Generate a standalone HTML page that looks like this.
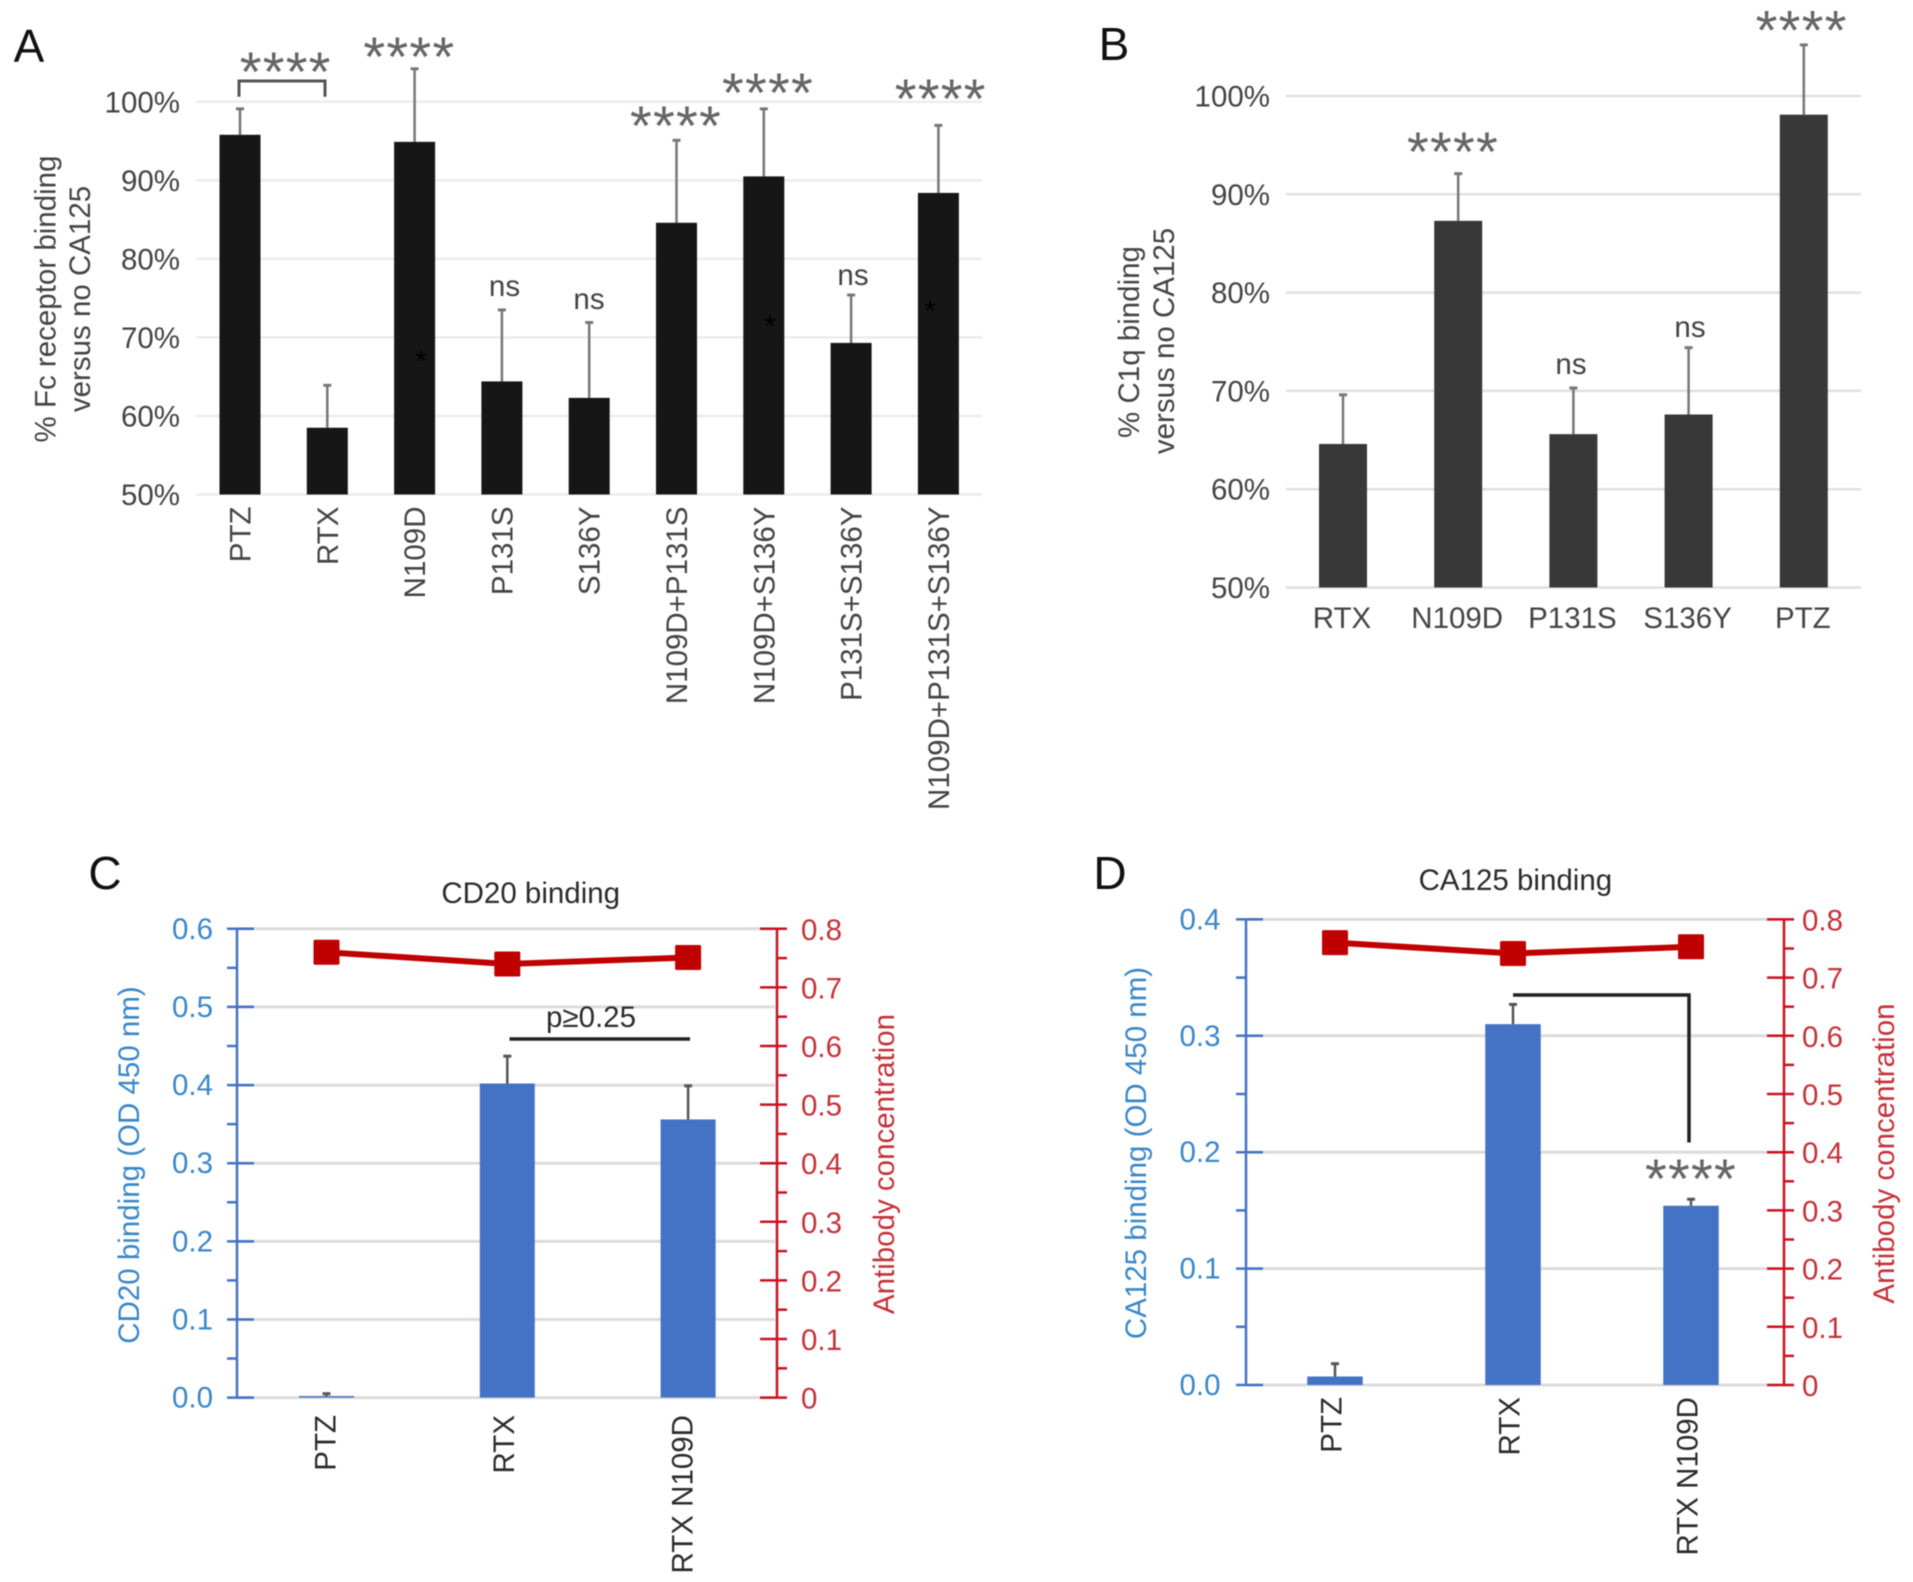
<!DOCTYPE html>
<html lang="en">
<head>
<meta charset="utf-8">
<title>Binding charts</title>
<style>
html,body{margin:0;padding:0;background:#fff;}
svg{display:block;filter:blur(.6px);}
text{font-family:"Liberation Sans",sans-serif;font-size:29.5px;}
.dark{fill:#444;}
.blk{fill:#2b2b2b;}
.blue{fill:#3a87c8;}
.red{fill:#c4323a;}
.letter{font-size:46px;fill:#111;}
.stars{font-size:56px;fill:#666;text-anchor:middle;letter-spacing:1.2px;}
</style>
</head>
<body>
<svg id="fig" xmlns="http://www.w3.org/2000/svg" width="1913" height="1582" viewBox="0 0 1913 1582">
  <rect width="1913" height="1582" fill="#fff"/>
  <g id="panelA"></g>
  <g id="panelB"></g>
  <g id="panelC"></g>
  <g id="panelD"></g>

  <text class="letter" x="29" y="62" text-anchor="middle">A</text>
  <text class="letter" x="1114" y="60" text-anchor="middle">B</text>
  <text class="letter" x="105" y="889" text-anchor="middle">C</text>
  <text class="letter" x="1110" y="889" text-anchor="middle">D</text>

  <!-- Panel A annotations -->
  <g transform="translate(45.5,299) rotate(-90)"><text class="dark" text-anchor="middle" y="10">% Fc receptor binding</text></g>
  <g transform="translate(80,299) rotate(-90)"><text class="dark" text-anchor="middle" y="10">versus no CA125</text></g>
  <path d="M239 96.7V81H325V96.7" fill="none" stroke="#555" stroke-width="3"/>
  <text class="stars" x="285.7" y="91">****</text>
  <text class="stars" x="409.4" y="76">****</text>
  <text class="stars" x="676" y="145">****</text>
  <text class="stars" x="768" y="112">****</text>
  <text class="stars" x="940.7" y="118">****</text>
  <text class="dark" x="504.5" y="296" text-anchor="middle">ns</text>
  <text class="dark" x="589" y="309" text-anchor="middle">ns</text>
  <text class="dark" x="853" y="285" text-anchor="middle">ns</text>
  <text x="421" y="371" text-anchor="middle" style="font-size:30px;fill:#000">*</text>
  <text x="770" y="336" text-anchor="middle" style="font-size:30px;fill:#000">*</text>
  <text x="930" y="321" text-anchor="middle" style="font-size:30px;fill:#000">*</text>

  <!-- Panel B annotations -->
  <g transform="translate(1129,342) rotate(-90)"><text class="dark" text-anchor="middle" y="10">% C1q binding</text></g>
  <g transform="translate(1164,341) rotate(-90)"><text class="dark" text-anchor="middle" y="10">versus no CA125</text></g>
  <text class="stars" x="1453" y="171">****</text>
  <text class="stars" x="1801.6" y="49.5">****</text>
  <text class="dark" x="1571" y="374" text-anchor="middle">ns</text>
  <text class="dark" x="1690" y="337" text-anchor="middle">ns</text>

  <!-- Panel C annotations -->
  <text class="blk" x="530.7" y="903" text-anchor="middle">CD20 binding</text>
  <g transform="translate(129,1165) rotate(-90)"><text class="blue" text-anchor="middle" y="10">CD20 binding (OD 450 nm)</text></g>
  <g transform="translate(884,1164) rotate(-90)"><text class="red" text-anchor="middle" y="10">Antibody concentration</text></g>
  <text class="blk" x="591" y="1027" text-anchor="middle">p≥0.25</text>
  <line x1="509.5" x2="690" y1="1039" y2="1039" stroke="#222" stroke-width="3.5"/>

  <!-- Panel D annotations -->
  <text class="blk" x="1515.4" y="890" text-anchor="middle">CA125 binding</text>
  <g transform="translate(1136,1153) rotate(-90)"><text class="blue" text-anchor="middle" y="10">CA125 binding (OD 450 nm)</text></g>
  <g transform="translate(1884,1153.5) rotate(-90)"><text class="red" text-anchor="middle" y="10">Antibody concentration</text></g>
  <path d="M1513 995H1689V1142.5" fill="none" stroke="#222" stroke-width="3.5"/>
  <text class="stars" x="1691" y="1198">****</text>
</svg>

<script>
// Panel A data
const aCategories = ['PTZ','RTX','N109D','P131S','S136Y','N109D+P131S','N109D+S136Y','P131S+S136Y','N109D+P131S+S136Y'];
const aValues = [95.8,58.5,94.9,64.4,62.3,84.6,90.5,69.3,88.4];
const aErrorTops = [99.1,63.9,104.2,73.5,71.9,95.1,99.1,75.4,97.0];
const aTicks = [50,60,70,80,90,100];
const aTickLabels = ['50%','60%','70%','80%','90%','100%'];

// Panel B data
const bCategories = ['RTX','N109D','P131S','S136Y','PTZ'];
const bValues = [64.6,87.3,65.6,67.6,98.1];
const bErrorTops = [69.6,92.1,70.3,74.4,105.2];
const bTicks = [50,60,70,80,90,100];
const bTickLabels = ['50%','60%','70%','80%','90%','100%'];

// Panel C data
const cCategories = ['PTZ','RTX','RTX N109D'];
const cValues = [0.002,0.402,0.356];
const cErrorTops = [0.005,0.437,0.399];
const cConcentration = [0.76,0.74,0.751];
const cLeftTicks = [0,0.1,0.2,0.3,0.4,0.5,0.6];
const cLeftTickLabels = ['0.0','0.1','0.2','0.3','0.4','0.5','0.6'];
const cRightTicks = [0,0.1,0.2,0.3,0.4,0.5,0.6,0.7,0.8];
const cRightTickLabels = ['0','0.1','0.2','0.3','0.4','0.5','0.6','0.7','0.8'];

// Panel D data
const dCategories = ['PTZ','RTX','RTX N109D'];
const dValues = [0.0073,0.31,0.154];
const dErrorTops = [0.0183,0.327,0.1596];
const dConcentration = [0.76,0.7415,0.753];
const dLeftTicks = [0,0.1,0.2,0.3,0.4];
const dLeftTickLabels = ['0.0','0.1','0.2','0.3','0.4'];
const dRightTicks = [0,0.1,0.2,0.3,0.4,0.5,0.6,0.7,0.8];
const dRightTickLabels = ['0','0.1','0.2','0.3','0.4','0.5','0.6','0.7','0.8'];

const NS = 'http://www.w3.org/2000/svg';
function mk(tag, attrs, parent, txt) {
  const e = document.createElementNS(NS, tag);
  for (const k in attrs) e.setAttribute(k, attrs[k]);
  if (txt !== undefined) e.textContent = txt;
  parent.appendChild(e);
  return e;
}
function linear(d0, d1, r0, r1) {
  return v => r0 + (v - d0) / (d1 - d0) * (r1 - r0);
}

function errorBar(g, x, y0, y1, color) {
  const s = mk('line', {x1:x, x2:x, y1:y0, y2:y1, stroke:color, 'stroke-width':2.5}, g);
  
  
  const c = mk('line', {x1:x-4, x2:x+4, y1:y1, y2:y1, stroke:color, 'stroke-width':3}, g);
  
  
}

function rotatedLabel(g, x, y, label, cls) {
  const t = mk('text', {x:0, y:0, 'text-anchor':'end', class:cls,
    transform:'translate(' + (x + 10.5) + ',' + y + ') rotate(-90)'}, g, label);
  
  
}

function drawGray(g, o) {
  const y = linear(o.dMin, o.dMax, o.yBottom, o.yTop);
  const x = i => o.x0 + i * o.step;
  o.ticks.forEach((v, i) => {
    const l = mk('line', {x1:o.gridL, x2:o.gridR, y1:y(v), y2:y(v), stroke:o.grid, 'stroke-width':2.5}, g);
    
    
    const t = mk('text', {x:o.labelR, y:y(v) + 10.5, 'text-anchor':'end', class:'dark'}, g, o.tickLabels[i]);
    
    
  });
  o.values.forEach((v, i) => {
    errorBar(g, x(i), y(v), y(o.errs[i]), '#777');
    const b = mk('rect', {x:x(i) - o.barW / 2, y:y(v), width:o.barW, height:o.yBottom - y(v), fill:o.barColor}, g);
    
    
    if (o.rotated) {
      rotatedLabel(g, x(i), o.labelTop, o.cats[i], 'dark');
    } else {
      const t = mk('text', {x:x(i) - 1, y:o.labelBase, 'text-anchor':'middle', class:'dark'}, g, o.cats[i]);
      
      
    }
  });
}

function drawDual(g, o) {
  const yL = linear(0, o.leftMax, o.yBottom, o.yTop);
  const yR = linear(0, 0.8, o.yBottom, o.yTop);
  const x = i => o.x0 + i * o.step;
  const blue = '#4472c4', red = '#cc1122';

  o.leftTicks.forEach((v) => {
    const l = mk('line', {x1:o.axisL, x2:o.axisR, y1:yL(v), y2:yL(v), stroke:'#dcdcdc', 'stroke-width':3}, g);
    
    
  });

  o.values.forEach((v, i) => {
    const b = mk('rect', {x:x(i) - o.barW / 2, y:yL(v), width:o.barW, height:o.yBottom - yL(v), fill:blue}, g);
    
    
    errorBar(g, x(i), yL(v), yL(o.errs[i]), '#555');
    rotatedLabel(g, o.catX(i), o.labelTop, o.cats[i], 'blk');
  });

  // left axis
  const la = mk('line', {x1:o.axisL, x2:o.axisL, y1:o.yTop, y2:o.yBottom, stroke:blue, 'stroke-width':2.5}, g);
  
  
  o.leftTicks.forEach((v, i) => {
    const k = mk('line', {x1:o.axisL - 10, x2:o.axisL + 17, y1:yL(v), y2:yL(v), stroke:blue, 'stroke-width':2.5}, g);
    
    
    if (i < o.leftTicks.length - 1) {
      const mid = (v + o.leftTicks[i + 1]) / 2;
      const n = mk('line', {x1:o.axisL - 10, x2:o.axisL, y1:yL(mid), y2:yL(mid), stroke:blue, 'stroke-width':2.5}, g);
      
      
    }
    const t = mk('text', {x:o.leftLabelR, y:yL(v) + 10, 'text-anchor':'end', class:'blue'}, g, o.leftTickLabels[i]);
    
    
  });

  // right axis
  const ra = mk('line', {x1:o.rightAxis, x2:o.rightAxis, y1:o.yTop, y2:o.yBottom, stroke:red, 'stroke-width':2.5}, g);
  
  
  o.rightTicks.forEach((v, i) => {
    const k = mk('line', {x1:o.rightAxis - 17, x2:o.rightAxis + 10, y1:yR(v), y2:yR(v), stroke:red, 'stroke-width':2.5}, g);
    
    
    if (i < o.rightTicks.length - 1) {
      const mid = (v + o.rightTicks[i + 1]) / 2;
      const n = mk('line', {x1:o.rightAxis, x2:o.rightAxis + 10, y1:yR(mid), y2:yR(mid), stroke:red, 'stroke-width':2.5}, g);
      
      
    }
    const t = mk('text', {x:o.rightLabelL, y:yR(v) + 11, class:'red'}, g, o.rightTickLabels[i]);
    
    
  });

  // concentration line
  const pts = o.line.map((v, i) => x(i) + ',' + yR(v)).join(' ');
  const p = mk('polyline', {points:pts, fill:'none', stroke:'#c00000', 'stroke-width':6}, g);
  
  
  o.line.forEach((v, i) => {
    const s = mk('rect', {x:x(i) - 13, y:yR(v) - 12.5, width:26, height:25, rx:1.5, fill:'#c00000'}, g);
    
    
  });
}

drawGray(document.getElementById('panelA'), {
  cats:aCategories, values:aValues, errs:aErrorTops, ticks:aTicks, tickLabels:aTickLabels,
  dMin:50, dMax:100, yBottom:494.5, yTop:101.8, x0:240, step:87.3, barW:41,
  gridL:196, gridR:982, grid:'#ececec', labelR:180, barColor:'#161616', rotated:true, labelTop:506.5
});
drawGray(document.getElementById('panelB'), {
  cats:bCategories, values:bValues, errs:bErrorTops, ticks:bTicks, tickLabels:bTickLabels,
  dMin:50, dMax:100, yBottom:587.5, yTop:96, x0:1343, step:115.2, barW:48,
  gridL:1286, gridR:1861, grid:'#e0e0e0', labelR:1270, barColor:'#383838', rotated:false, labelBase:628
});
drawDual(document.getElementById('panelC'), {
  cats:cCategories, values:cValues, errs:cErrorTops, line:cConcentration,
  leftTicks:cLeftTicks, leftTickLabels:cLeftTickLabels, rightTicks:cRightTicks, rightTickLabels:cRightTickLabels,
  leftMax:0.6, yBottom:1397.6, yTop:928.8, x0:326.5, step:180.8, barW:55,
  axisL:237, axisR:775, rightAxis:777, leftLabelR:213, rightLabelL:801, labelTop:1415,
  catX:i => 325 + i * 178.5
});
drawDual(document.getElementById('panelD'), {
  cats:dCategories, values:dValues, errs:dErrorTops, line:dConcentration,
  leftTicks:dLeftTicks, leftTickLabels:dLeftTickLabels, rightTicks:dRightTicks, rightTickLabels:dRightTickLabels,
  leftMax:0.4, yBottom:1385, yTop:919.4, x0:1335, step:178, barW:55.5,
  axisL:1246, axisR:1778, rightAxis:1784, leftLabelR:1220.5, rightLabelL:1802, labelTop:1397,
  catX:i => 1331 + i * 178
});
</script>
</body>
</html>
